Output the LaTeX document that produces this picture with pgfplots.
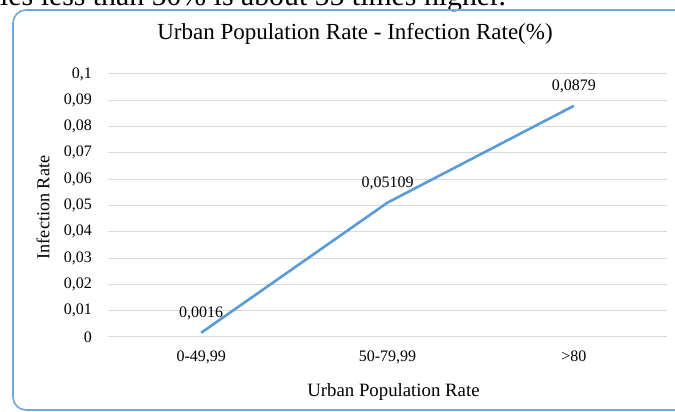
\documentclass[border=0pt]{standalone}
\usepackage{fontspec}
\setmainfont{Liberation Serif}
\usepackage{pgfplots}
\pgfplotsset{compat=1.18}
\definecolor{linec}{HTML}{5B9BD5}
\definecolor{gridc}{HTML}{D9D9D9}
\definecolor{borderc}{HTML}{6FA8DC}
\begin{document}
\begin{tikzpicture}[x=1pt,y=1pt]
\clip (0,0) rectangle (675,412);
\useasboundingbox (0,0) rectangle (675,412);
\node[anchor=base west, inner sep=0pt, font=\fontsize{29.8}{32}\selectfont] at (0,406) {ies less than 50\% is about 55 times higher.};
\draw[borderc, line width=1.6pt, rounded corners=13pt] (13,2) rectangle (700,402);
\begin{axis}[
  at={(108pt,75pt)}, anchor=south west,
  scale only axis, width=559pt, height=263pt,
  xmin=-0.5, xmax=2.5, ymin=0, ymax=0.1,
  xtick={0,1,2}, xticklabels={0-49{,}99,50-79{,}99,>80},
  ytick={0,0.01,0.02,0.03,0.04,0.05,0.06,0.07,0.08,0.09,0.1},
  /pgf/number format/assume math mode=true,
  yticklabel={\pgfmathprintnumber[fixed,precision=2,use comma]{\tick}},
  ymajorgrids, grid style={gridc, line width=1pt},
  axis line style={draw=none}, tick style={draw=none},
  tick label style={font=\fontsize{16}{18}\selectfont, inner sep=0pt},
  yticklabel style={xshift=-16pt},
  xticklabel style={yshift=-13.5pt},
  title={Urban Population Rate - Infection Rate(\%)},
  title style={font=\fontsize{23}{25}\selectfont, at={(axis description cs:0.5,1)}, anchor=center, yshift=34pt, xshift=-32.5pt},
  xlabel={Urban Population Rate},
  xlabel style={font=\fontsize{18.8}{20}\selectfont, at={(axis description cs:0.5,0)}, anchor=center, yshift=-55pt, xshift=6pt},
  ylabel={Infection Rate},
  ylabel style={font=\fontsize{18.2}{20}\selectfont, at={(axis description cs:0,0.5)}, anchor=center, yshift=65pt, xshift=-2pt},
  nodes near coords, point meta=explicit symbolic,
  every node near coord/.style={font=\fontsize{16}{18}\selectfont, text=black, inner sep=0pt, anchor=base, yshift=15.5pt},
  clip=false,
]
\addplot[linec, line width=2.6pt, mark=none] coordinates {
  (0,0.0016) [0,0016]
  (1,0.05109) [0,05109]
  (2,0.0879) [0,0879]
};
\end{axis}
\end{tikzpicture}
\end{document}
